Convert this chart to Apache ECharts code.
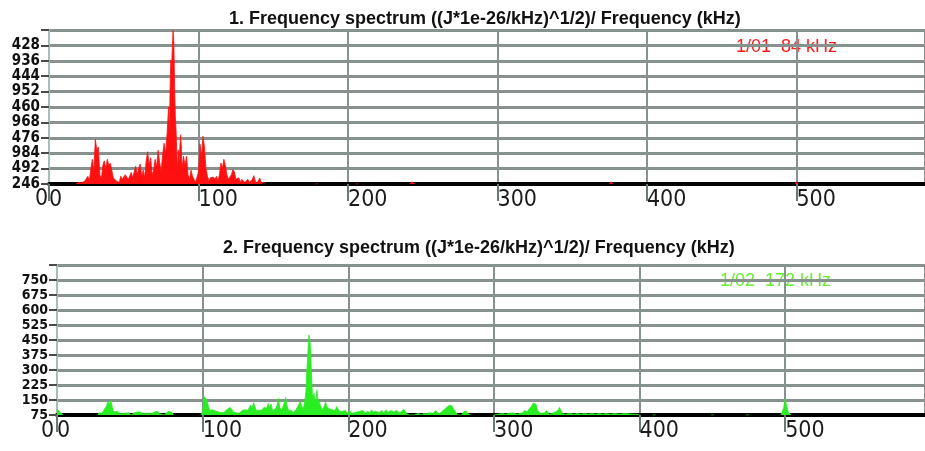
<!DOCTYPE html>
<html>
<head>
<meta charset="utf-8">
<script src="https://cdn.jsdelivr.net/npm/echarts@6/dist/echarts.min.js"></script>
<style>html,body{margin:0;padding:0;background:#fff;}#c{width:925px;height:451px;}</style>
</head>
<body>
<div id="c"></div>
<script>
// ---- Chart 1 (red): [frequency kHz, amplitude]; '-' breaks the trace ----
var spec1 = [
  [18,0],[20,150],[21,0],[22,120],[23,0],[24,300],[25,150],[26,750],[27,300],[28,1490],[29,2390],[30,1190],
  [31,4330],[32,3280],[33,3580],[34,900],[35,450],[36,1790],[37,2240],[38,1490],[39,2390],[40,1790],
  [41,2010],[42,1340],[43,600],[44,750],[45,300],[46,450],[47,150],[48,750],[49,450],[50,300],
  [51,900],[52,1040],[53,450],[54,750],[55,1120],[56,600],[57,1190],[58,1720],[59,900],[60,1490],
  [61,1940],[62,750],[63,1340],[64,600],[65,2240],[66,3130],[67,1790],[68,2540],[69,900],[70,1340],
  [71,2390],[72,1640],[73,3280],[74,2090],[75,1190],[76,2830],[77,3950],[78,2980],[79,4920],[80,7460],
  [80.5,4480],[81,9250],[81.5,12010],[82,11190],[82.5,13200],[83,14860],[83.5,13730],[84,9700],[84.5,6560],
  [85,5220],[85.5,2980],[86,1490],[86.5,3280],[87,2090],[88,4770],[88.5,3730],[89,1490],[90,2690],
  [91,1790],[92,2690],[93,900],[94,450],[95,1340],[96,750],[97,450],[98,150],[99,80],[100,1190],
  [101,3880],[102,2690],[103,4630],[104,3580],[105,1490],[106,750],[107,300],[108,600],[109,750],[110,670],
  [111,450],[112,750],[113,300],[114,900],[115,2030],[116,1490],[117,2390],[118,1790],[119,900],[120,450],
  [121,300],[122,900],[123,1390],[124,1190],[125,450],[126,300],[127,600],[128,150],[129,450],[130,520],
  [131,150],[132,300],[133,450],[134,150],[135,300],[136,450],[137,810],[138,300],[139,80],[140,300],
  [141,580],[142,150],[143,80],[144,150],[145,0],[146,'-'],
  [178,0],[179,180],[180,0],[181,'-'],[205,0],[206,170],[207,0],[208,'-'],
  [241,0],[242,140],[243,180],[244,140],[245,0],[246,'-'],[375,0],[376,220],[377,0],[378,'-'],
  [499,0],[500,200],[501,0]
];

// ---- Chart 2 (green): [frequency kHz, amplitude] ----
var spec2 = [
  [0,105],[1,103],[2,90],[3,83],[4,75],[5,'-'],
  [28,75],[29,86],[30,90],[31,83],[32,98],[33,90],[34,120],[35,143],[36,128],[37,146],[38,113],[39,90],
  [40,83],[41,94],[42,86],[43,83],[44,75],[46,83],[47,75],[49,86],[50,83],[51,75],[53,86],[54,83],
  [55,90],[56,86],[57,90],[58,90],[59,83],[60,79],[62,83],[63,75],[65,83],[66,86],[67,90],[68,86],
  [69,94],[70,83],[71,75],[74,75],[75,86],[76,90],[77,94],[78,90],[79,86],[80,75],[81,'-'],
  [99,75],[100,90],[101,167],[102,173],[103,150],[104,117],[105,98],[106,90],[107,101],[108,100],
  [109,94],[110,86],[111,90],[112,83],[113,86],[114,83],[115,90],[116,98],[117,105],[118,109],[119,113],
  [120,105],[121,90],[122,83],[123,86],[124,90],[125,83],[126,90],[127,98],[128,94],[129,101],[130,108],
  [131,98],[132,105],[133,125],[134,109],[135,137],[136,113],[137,98],[138,90],[139,98],[140,105],
  [141,101],[142,113],[143,123],[144,109],[145,133],[146,113],[147,130],[148,98],[149,90],[150,105],
  [151,120],[152,158],[153,113],[154,98],[155,113],[156,135],[157,162],[158,120],[159,98],[160,90],
  [161,98],[162,86],[163,90],[164,101],[165,113],[166,128],[167,142],[168,120],[169,105],[170,135],
  [171,200],[171.5,290],[172,350],[172.5,420],[173,475],[173.5,450],[174,417],[174.5,330],[175,233],
  [175.5,160],[176,150],[176.5,183],[177,150],[177.5,133],[178,165],[178.5,200],[179,158],[180,167],
  [181,120],[182,100],[183,113],[184,130],[184.5,142],[185,120],[186,130],[187,105],[188,98],[189,101],
  [190,108],[191,98],[192,117],[193,105],[194,94],[195,90],[196,94],[197,86],[198,98],[199,83],
  [200,90],[201,98],[202,83],[203,90],[204,86],[205,79],[206,90],[207,83],[208,94],[209,86],[210,98],
  [211,90],[212,83],[213,94],[214,98],[215,86],[216,101],[217,90],[218,83],[219,94],[220,98],
  [221,86],[222,90],[223,98],[224,83],[225,90],[226,101],[227,86],[228,94],[229,98],[230,101],
  [231,90],[232,83],[233,98],[234,90],[235,86],[236,83],[237,94],[238,105],[239,98],[240,83],
  [241,79],[242,75],[245,75],[246,79],[248,83],[249,79],[250,75],[252,83],[253,86],[254,83],
  [255,79],[256,86],[257,90],[258,83],[259,90],[260,98],[261,86],[262,90],[263,83],[264,90],
  [265,98],[266,101],[267,109],[268,116],[269,122],[270,127],[271,122],[272,113],[273,98],[274,86],
  [275,75],[278,75],[279,90],[280,98],[281,94],[282,83],[283,79],[284,75],[285,'-'],
  [300,75],[301,83],[303,79],[304,86],[306,83],[308,79],[310,83],[313,86],[316,79],[318,83],
  [319,90],[320,86],[321,98],[322,105],[323,90],[324,105],[325,113],[326,120],[327,135],[328,143],
  [329,128],[330,98],[331,90],[332,83],[335,86],[336,98],[337,90],[338,79],[340,83],[342,90],
  [344,98],[345,113],[346,98],[347,83],[349,79],[352,83],[353,86],[355,79],[357,83],[360,79],
  [362,83],[365,79],[367,83],[370,79],[372,83],[375,79],[377,83],[380,79],[383,83],[386,79],
  [390,83],[395,79],[398,79],[400,75],[401,'-'],
  [409,75],[410,79],[411,75],[412,'-'],[449,75],[450,79],[451,75],[452,'-'],[473,75],[474,80],[475,75],[476,'-'],
  [497,75],[498,90],[499,113],[500,155],[501,120],[502,90],[503,83],[504,75]
];

// ---- Axis tick labels, titles, notes ----
var xTicks = ['0','100','200','300','400','500'];
var yLabels1 = ['246','492','984','476','968','460','952','444','936','428',''];
var yLabels2 = ['75','150','225','300','375','450','525','600','675','750',''];
var titles = ['1. Frequency spectrum ((J*1e-26/kHz)^1/2)/ Frequency (kHz)',
              '2. Frequency spectrum ((J*1e-26/kHz)^1/2)/ Frequency (kHz)'];
var notes = ['1/01  84 kHz', '1/02  172 kHz'];

var condensed = "'DejaVu Sans Condensed','Liberation Sans',sans-serif";
var gridColor = '#87928f';
function xAxisCfg(idx, max){
  return {
    type:'value', gridIndex: idx, min:0, max:max, interval:100,
    axisLine:{show:true, onZero:false, lineStyle:{color:'#000', width:4}},
    axisTick:{show:true, length:17, lineStyle:{color:'#6d7777', width:2}},
    splitLine:{show:true, lineStyle:{color:gridColor, width:2}},
    axisLabel:{show:true, align:'left', margin:5, showMaxLabel:false,
      fontFamily:condensed, fontSize:23, color:'#1c1c1c',
      formatter:function(v){ return (v % 100 === 0) ? xTicks[v/100] : ''; }}
  };
}
function yAxisCfg(idx, min, max, step, labels, fs){
  return {
    type:'value', gridIndex: idx, min:min, max:max, interval:step,
    axisLine:{show:true, lineStyle:{color:'#a9bcbc', width:2}},
    axisTick:{show:true, length:8, lineStyle:{color:'#4a4a4a', width:2}},
    splitLine:{show:true, lineStyle:{color:gridColor, width:3}},
    axisLabel:{show:true, margin:9, showMinLabel:true, hideOverlap:false,
      fontFamily:condensed, fontWeight:'bold', fontSize:fs, color:'#111',
      formatter:function(v){ var k=Math.round((v-min)/step); return labels[k] || ''; }}
  };
}

var chart = echarts.init(document.getElementById('c'));
chart.setOption({
  backgroundColor:'#fff',
  animation:false,
  title:[
    {text:titles[0], left:224, top:5, textStyle:{fontFamily:'Liberation Sans', fontWeight:'bold', fontSize:18, color:'#111'}},
    {text:titles[1], left:218, top:234, textStyle:{fontFamily:'Liberation Sans', fontWeight:'bold', fontSize:18, color:'#111'}}
  ],
  grid:[
    {left:49, right:0, top:30, height:154},
    {left:57, right:0, top:265, height:150}
  ],
  xAxis:[xAxisCfg(0, 586), xAxisCfg(1, 596)],
  yAxis:[yAxisCfg(0, 0, 14920, 1492, yLabels1, 15), yAxisCfg(1, 75, 825, 75, yLabels2, 14)],
  series:[
    {type:'line', xAxisIndex:0, yAxisIndex:0, data:spec1, showSymbol:false, symbol:'none', connectNulls:false,
      lineStyle:{color:'#ff1010', width:0.8}, areaStyle:{color:'#ff1010', opacity:1}, z:5},
    {type:'line', xAxisIndex:1, yAxisIndex:1, data:spec2, showSymbol:false, symbol:'none', connectNulls:false,
      lineStyle:{color:'#2aee22', width:0.8}, areaStyle:{color:'#2aee22', opacity:1, origin:'start'}, z:5}
  ],
  graphic:[
    {type:'text', left:35, top:188, style:{text:'0', fontFamily:condensed, fontSize:23, fill:'#1c1c1c'}},
    {type:'text', left:41, top:420, style:{text:'0', fontFamily:condensed, fontSize:23, fill:'#1c1c1c'}},
    {type:'text', left:736, top:38, style:{text:notes[0], fontFamily:'Liberation Sans', fontSize:18, fill:'#ff1a1a'}},
    {type:'text', left:720, top:272, style:{text:notes[1], fontFamily:'Liberation Sans', fontSize:18, fill:'#66ee33'}}
  ]
});
</script>
</body>
</html>
